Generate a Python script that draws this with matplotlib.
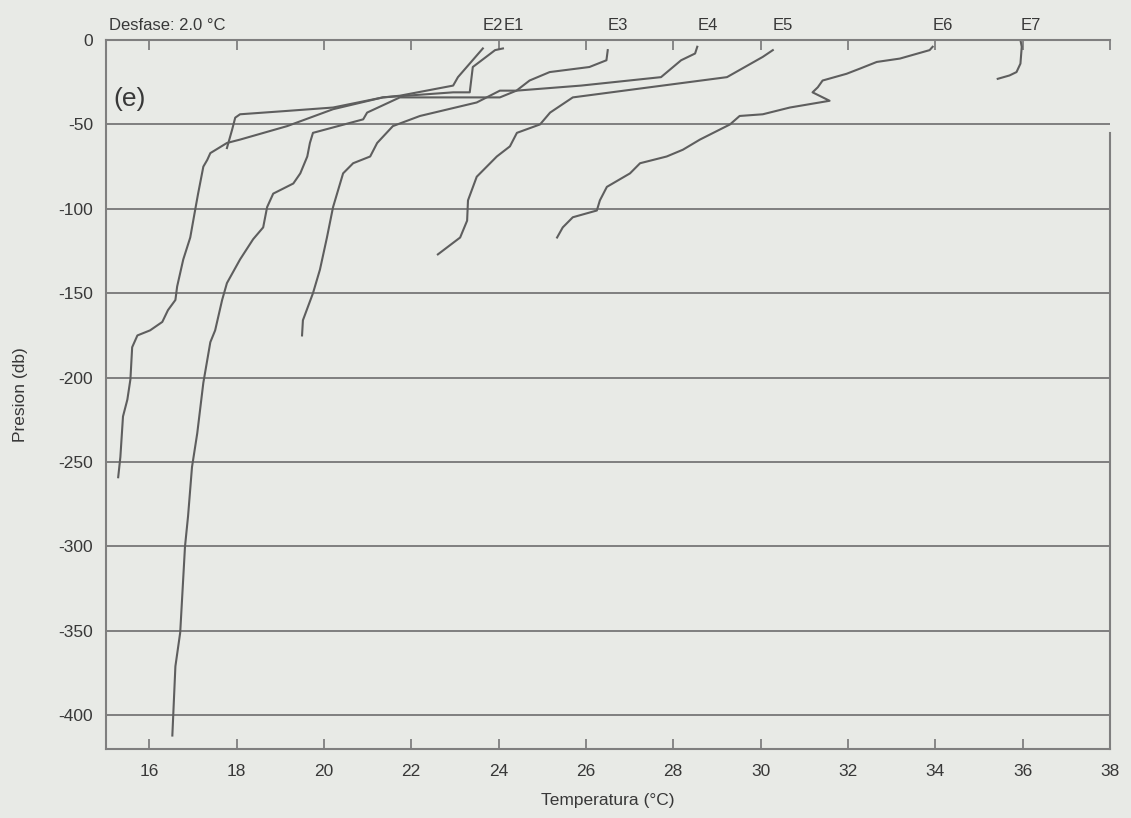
import matplotlib
matplotlib.use("Agg")
import matplotlib.pyplot as plt

plt.rcParams["font.family"] = ["Liberation Sans", "DejaVu Sans"]

# ---- data (temperature in °C, pressure in db) ----
stations = ["E1", "E2", "E3", "E4", "E5", "E6", "E7"]

e1_temp = [24.10, 23.92, 23.41, 23.34, 22.96, 21.35, 20.21, 19.16, 18.08, 17.78, 17.40, 17.33,
           17.24, 17.12, 17.05, 16.94, 16.78, 16.64, 16.60, 16.43, 16.30, 16.02, 15.73, 15.61,
           15.57, 15.50, 15.40, 15.34, 15.29]
e1_pres = [-5, -6, -16, -31, -31, -34, -41, -51, -59, -61, -67, -71,
           -75, -91, -101, -117, -130, -146, -154, -160, -167, -172, -175, -182,
           -201, -213, -223, -247, -259]

e2_temp = [23.64, 23.07, 22.96, 21.74, 21.35, 20.21, 19.16, 18.08, 17.97, 17.90, 17.78]
e2_pres = [-5, -22, -27, -33, -34, -40, -42, -44, -46, -53, -64]

e3_temp = [26.50, 26.47, 26.08, 25.17, 24.71, 24.41, 24.03, 21.74, 20.99, 20.90, 19.75,
           19.68, 19.62, 19.46, 19.30, 18.84, 18.70, 18.61, 18.38, 18.08, 17.78, 17.67,
           17.51, 17.40, 17.24, 17.10, 16.98, 16.89, 16.82, 16.71, 16.60, 16.53]
e3_pres = [-6, -12, -16, -19, -24, -30, -34, -34, -43, -47, -55,
           -61, -69, -79, -85, -91, -99, -111, -118, -130, -144, -154,
           -172, -179, -203, -233, -253, -282, -300, -351, -371, -412]

e4_temp = [28.55, 28.50, 28.18, 27.72, 25.89, 24.41, 24.03, 23.50, 22.20, 21.58, 21.22,
           21.06, 20.67, 20.44, 20.21, 20.07, 19.91, 19.75, 19.52, 19.50]
e4_pres = [-4, -8, -12, -22, -27, -30, -30, -37, -45, -51, -61,
           -69, -73, -79, -99, -117, -136, -150, -166, -175]

e5_temp = [30.28, 30.05, 29.23, 27.46, 25.70, 25.18, 24.95, 24.42, 24.26, 23.96, 23.50,
           23.30, 23.28, 23.12, 22.61]
e5_pres = [-6, -10, -22, -28, -34, -43, -50, -55, -63, -69, -81,
           -95, -107, -117, -127]

e6_temp = [33.94, 33.87, 33.19, 32.66, 32.27, 31.97, 31.42, 31.31, 31.19, 31.58, 30.67,
           30.05, 29.52, 29.30, 28.61, 28.22, 27.85, 27.24, 27.01, 26.48, 26.32, 26.25,
           25.70, 25.47, 25.34]
e6_pres = [-4, -6, -11, -13, -17, -20, -24, -28, -31, -36, -40,
           -44, -45, -50, -59, -65, -69, -73, -79, -87, -95, -101,
           -105, -111, -117]

e7_temp = [35.95, 35.98, 35.95, 35.86, 35.70, 35.43]
e7_pres = [0, -4, -14, -19, -21, -23]

offset_text = "Desfase: 2.0 °C"
panel_text = "(e)"
x_ticks = [16, 18, 20, 22, 24, 26, 28, 30, 32, 34, 36, 38]
y_ticks = [0, -50, -100, -150, -200, -250, -300, -350, -400]

profiles = {
    "E1": (e1_temp, e1_pres), "E2": (e2_temp, e2_pres), "E3": (e3_temp, e3_pres),
    "E4": (e4_temp, e4_pres), "E5": (e5_temp, e5_pres), "E6": (e6_temp, e6_pres),
    "E7": (e7_temp, e7_pres),
}

# ---- drawing ----
bg = "#e8eae6"
line_c = "#5e5e5e"
grid_c = "#7f7f7f"
text_c = "#383838"

fig = plt.figure(figsize=(11.31, 8.18), dpi=100, facecolor=bg)
ax = fig.add_axes([0.0933, 0.0843, 0.8881, 0.8668], facecolor=bg)

for name in stations:
    t, p = profiles[name]
    ax.plot(t, p, color=line_c, lw=1.5, solid_joinstyle="round")

ax.set_xlim(15, 38)
ax.set_ylim(-420, 0)
ax.set_xticks(x_ticks)
ax.set_yticks(y_ticks)
ax.set_yticklabels([str(v) for v in y_ticks])
ax.yaxis.grid(True, color=grid_c, lw=1.4)
ax.set_axisbelow(True)
ax.tick_params(axis="x", direction="in", length=7, top=True, color=grid_c,
               labelsize=12.5, labelcolor=text_c, pad=11, width=1.3)
ax.tick_params(axis="y", direction="in", length=0, labelsize=12.5,
               labelcolor=text_c, pad=9)
for s in ax.spines.values():
    s.set_color(grid_c)
    s.set_linewidth(1.5)
ax.spines["right"].set_bounds(-420, -55)

ax.set_xlabel("Temperatura (°C)", fontsize=12.5, color=text_c, labelpad=10)
ax.set_ylabel("Presion (db)", fontsize=12.5, color=text_c, labelpad=22)

# station labels above the top axis, left-aligned at surface temperature
label_pos = {"E2": e2_temp[0], "E1": 24.12, "E3": e3_temp[0], "E4": e4_temp[0],
             "E5": e5_temp[0], "E6": e6_temp[0], "E7": e7_temp[0]}
for name in stations:
    ax.text(label_pos[name], 1.01, name, transform=ax.get_xaxis_transform(),
            ha="left", va="bottom", fontsize=12, color=text_c)

ax.text(0.003, 1.01, offset_text, transform=ax.transAxes, ha="left", va="bottom",
        fontsize=12, color=text_c)
ax.text(0.008, 0.917, panel_text, transform=ax.transAxes, ha="left", va="center",
        fontsize=19, color=text_c)

fig.savefig("out.png", dpi=100, facecolor=bg)
